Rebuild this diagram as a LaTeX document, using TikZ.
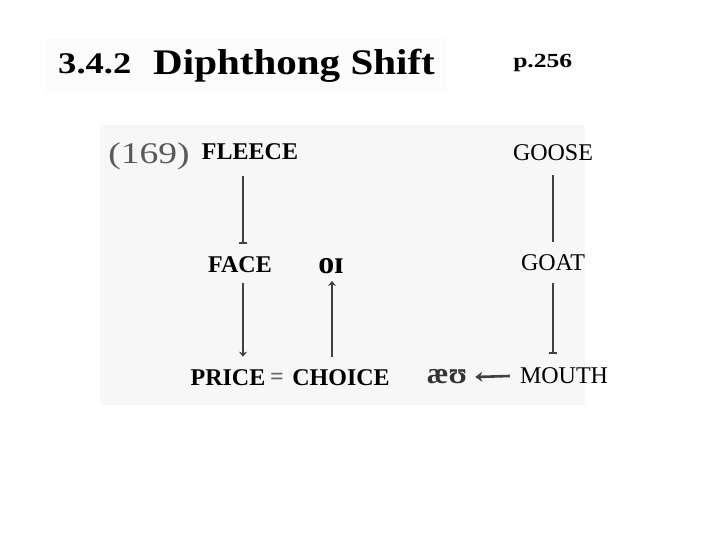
\documentclass[tikz,border=0pt]{standalone}
\usepackage{fontspec}
\setmainfont{Liberation Serif}
\usetikzlibrary{arrows.meta}
\begin{document}
\begin{tikzpicture}[x=1pt,y=-1pt,
  lbl/.style={inner sep=0pt, font=\fontsize{24}{26}\selectfont},
  blbl/.style={inner sep=0pt, font=\fontsize{24}{26}\selectfont\bfseries},
  conn/.style={draw=black!75, line width=2.6pt},
  dnarrow/.style={conn, -{Stealth[length=5pt,width=8pt]}},
  bararrow/.style={conn, -{Bar[width=8pt,line width=2pt]}}]
\useasboundingbox (0,0) rectangle (720,540);
% scanned backgrounds
\fill[black!1] (45,38) rectangle (447,92);
\fill[black!3] (100,125) rectangle (585,405);
% title
\node[inner sep=0pt, anchor=base west, font=\fontsize{30}{32}\selectfont\bfseries, xscale=1.22] (num) at (58,74) {3.4.2};
\node[inner sep=0pt, anchor=base west, font=\fontsize{36}{40}\selectfont\bfseries, xscale=1.14] (title) at (153,75) {Diphthong Shift};
\node[inner sep=0pt, anchor=base west, font=\fontsize{20}{22}\selectfont\bfseries, xscale=1.28] (page) at (513,68) {p.256};
% example number
\node[inner sep=0pt, text=black!65, font=\fontsize{30}{32}\selectfont, xscale=1.25] (ex) at (149,156) {(169)};
% words
\node[blbl] (FLEECE) at (250,152) {FLEECE};
\node[lbl] (GOOSE) at (553,153) {GOOSE};
\node[blbl] (FACE) at (240,265) {FACE};
\node[inner sep=0pt, font=\fontsize{32}{34}\selectfont\bfseries] (OI) at (331,266) {oɪ};
\node[lbl] (GOAT) at (553,263) {GOAT};
\node[blbl] (PRICE) at (228,378) {PRICE};
\node[blbl, text=black!60] (EQ) at (277,379) {=};
\node[blbl] (CHOICE) at (341,378) {CHOICE};
\node[inner sep=0pt, text=black!80, font=\fontsize{30}{32}\selectfont\bfseries] (AU) at (447,377) {æʊ};
\node[lbl] (MOUTH) at (564,376) {MOUTH};
% connectors
\draw[bararrow] ([xshift=-7pt,yshift=-16pt]FLEECE.south) -- ([xshift=3pt,yshift=13pt]FACE.north);
\draw[conn] ([yshift=-14pt]GOOSE.south) -- ([yshift=13pt]GOAT.north);
\draw[dnarrow] ([xshift=3pt,yshift=-10pt]FACE.south) -- ([xshift=15pt,yshift=13pt]PRICE.north);
\draw[dnarrow] ([xshift=-9pt,yshift=13pt]CHOICE.north) -- ([xshift=1pt,yshift=-7pt]OI.south);
\draw[bararrow] ([yshift=-12pt]GOAT.south) -- ([xshift=-11pt,yshift=14pt]MOUTH.north);
\draw[conn, -{Stealth[length=7pt,width=10pt]}] ([xshift=-10pt]MOUTH.west) -- ([xshift=8pt]AU.east);
\end{tikzpicture}
\end{document}
